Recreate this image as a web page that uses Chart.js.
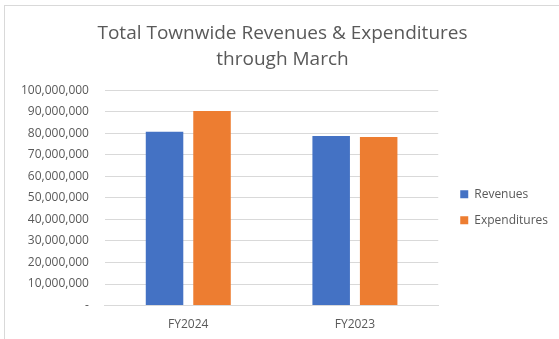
<!DOCTYPE html>
<html>
<head>
<meta charset="utf-8">
<script src="https://cdn.jsdelivr.net/npm/chart.js@4"></script>
<style>
  html, body { margin: 0; padding: 0; background: #fff; }
  #wrap {
    position: absolute; left: 4px; top: 5px; width: 560px; height: 340px;
    border-left: 1px solid #d9d9d9; border-top: 1px solid #d9d9d9;
    box-sizing: border-box;
  }
  canvas { display: block; }
</style>
</head>
<body>
<div id="wrap"><canvas id="bar-chart" width="555" height="334"></canvas></div>
<script>
const fiscalYears = ["FY2024", "FY2023"];
const revenues = [80700000, 78700000];
const expenditures = [90400000, 78300000];

const textColor = "#595959";
const fontFamily = "'Open Sans', 'Liberation Sans', sans-serif";

// push the legend entries a little further from the plot,
// and centre the title on the whole canvas
const boxNudge = {
  id: "boxNudge",
  afterLayout(chart) {
    chart.legend.left += 8;
    chart.legend.right += 8;
    chart.titleBlock.left += 5;
    chart.titleBlock.right += 5;
  },
};

const barChart = document.getElementById("bar-chart");
window.myBarChart = new Chart(barChart, {
  type: "bar",
  data: {
    labels: fiscalYears,
    datasets: [
      {
        label: "Revenues",
        data: revenues,
        backgroundColor: "#4472c4",
        borderColor: "#4472c4",
        barPercentage: 0.79,
        categoryPercentage: 0.57,
      },
      {
        label: "Expenditures",
        data: expenditures,
        backgroundColor: "#ed7d31",
        borderColor: "#ed7d31",
        barPercentage: 0.79,
        categoryPercentage: 0.57,
      },
    ],
  },
  options: {
    responsive: false,
    animation: false,
    layout: { padding: { left: 0, right: 10, top: 0, bottom: 4 } },
    scales: {
      x: {
        grid: { display: false },
        border: { color: "#d9d9d9" },
        ticks: { color: textColor, font: { family: fontFamily, size: 12 }, padding: 4 },
      },
      y: {
        min: 0,
        max: 100000000,
        grid: { color: "#d9d9d9", drawTicks: false },
        border: { display: false },
        ticks: {
          stepSize: 10000000,
          color: textColor,
          padding: 16,
          font: { family: fontFamily, size: 12 },
          // zero shows as a dash, like accounting format
          callback: (value) => (value === 0 ? "-" : value.toLocaleString("en-US")),
        },
      },
    },
    plugins: {
      title: {
        display: true,
        text: ["Total Townwide Revenues & Expenditures", "through March"],
        color: textColor,
        font: { family: fontFamily, size: 19, weight: "normal", lineHeight: 1.4 },
        padding: { top: 14, bottom: 17 },
      },
      legend: {
        position: "right",
        title: { display: true, text: " ", padding: { top: 58, bottom: 0 } },
        labels: {
          color: textColor,
          font: { family: fontFamily, size: 12 },
          boxWidth: 8,
          boxHeight: 8,
          padding: 14,
        },
      },
      tooltip: { enabled: false },
    },
  },
  plugins: [boxNudge],
});
</script>
</body>
</html>
